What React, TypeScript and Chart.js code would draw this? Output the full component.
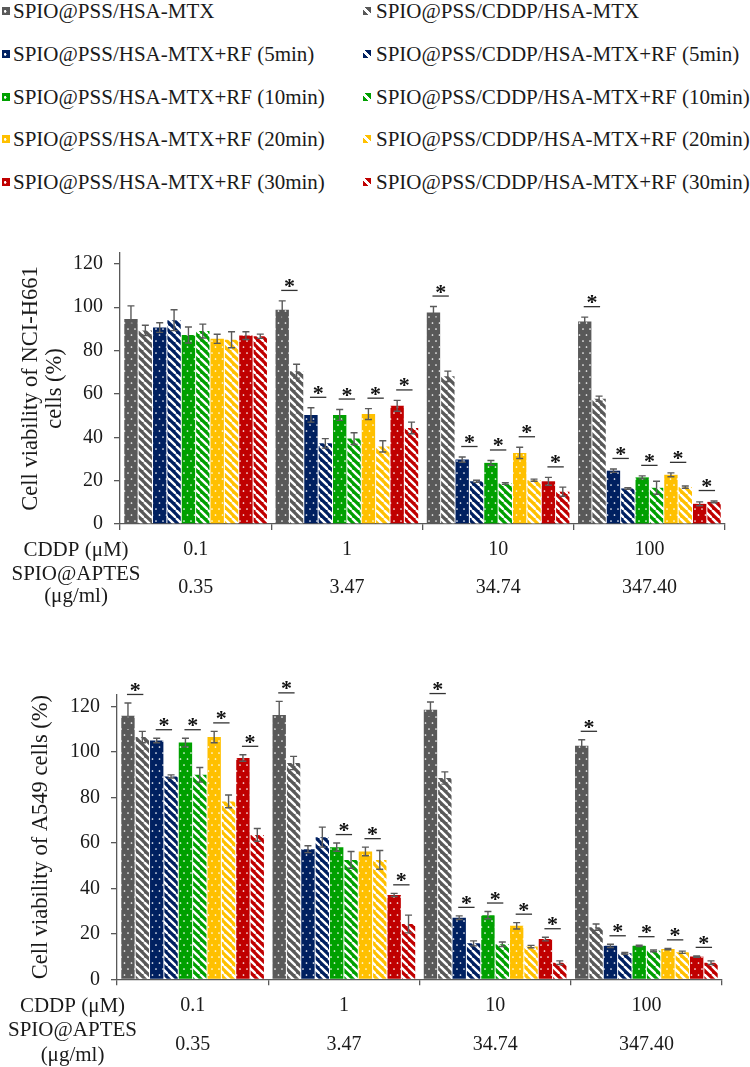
import React, { useEffect, useRef } from 'react';
import { Chart, registerables } from 'chart.js';
Chart.register(...registerables);

const FONT = "'Liberation Serif', 'Times New Roman', serif";
const TEXT = '#1a1a1a';
const AXIS = '#595959';
const ERR = '#5a5a5a';

const cddpLabels = ['0.1', '1', '10', '100'];
const spioLabels = ['0.35', '3.47', '34.74', '347.40'];
const rowLabels = ['CDDP (\u03bcM)', 'SPIO@APTES', '(\u03bcg/ml)'];

const seriesNames = [
  'SPIO@PSS/HSA-MTX',
  'SPIO@PSS/CDDP/HSA-MTX',
  'SPIO@PSS/HSA-MTX+RF (5min)',
  'SPIO@PSS/CDDP/HSA-MTX+RF (5min)',
  'SPIO@PSS/HSA-MTX+RF (10min)',
  'SPIO@PSS/CDDP/HSA-MTX+RF (10min)',
  'SPIO@PSS/HSA-MTX+RF (20min)',
  'SPIO@PSS/CDDP/HSA-MTX+RF (20min)',
  'SPIO@PSS/HSA-MTX+RF (30min)',
  'SPIO@PSS/CDDP/HSA-MTX+RF (30min)',
];
const seriesColors = ['#595959', '#595959', '#002060', '#002060', '#00A000', '#00A000', '#FFC000', '#FFC000', '#C00000', '#C00000'];
const seriesHatched = [false, true, false, true, false, true, false, true, false, true];

// NCI-H661 cell viability (%), per series, per concentration
const h661Values = [
  [94.6, 98.8, 97.6, 93.4],
  [89.3, 70.5, 68.1, 57.8],
  [90.6, 50.3, 29.7, 24.6],
  [94.0, 37.2, 19.7, 16.4],
  [87.2, 50.3, 28.2, 21.5],
  [89.0, 39.4, 18.7, 16.7],
  [85.4, 50.7, 32.8, 22.7],
  [85.0, 35.8, 20.2, 17.0],
  [86.9, 54.5, 19.7, 9.3],
  [86.6, 44.3, 14.9, 10.2],
];
const h661Errors = [
  [6.0, 4.1, 2.7, 2.0],
  [2.4, 3.2, 2.4, 1.2],
  [2.2, 3.3, 1.2, 0.8],
  [4.8, 2.2, 0.5, 0.4],
  [3.7, 2.5, 1.1, 0.7],
  [3.2, 2.7, 0.4, 3.0],
  [2.1, 2.5, 2.6, 0.9],
  [3.7, 2.6, 0.5, 0.5],
  [1.8, 2.5, 1.8, 0.9],
  [1.0, 2.7, 2.1, 0.4],
];
// significance (*) per pair (MTX vs CDDP/MTX): gray, navy, green, yellow, red
const h661Sig = [
  [0, 1, 1, 1],
  [0, 1, 1, 1],
  [0, 1, 1, 1],
  [0, 1, 1, 1],
  [0, 1, 1, 1],
];

// A549 cell viability (%)
const a549Values = [
  [115.9, 116.2, 118.5, 102.7],
  [106.5, 95.1, 88.5, 22.9],
  [105.0, 57.2, 27.1, 14.7],
  [89.2, 62.5, 15.8, 11.4],
  [104.1, 58.1, 28.2, 14.7],
  [89.9, 52.5, 15.4, 12.5],
  [106.5, 56.2, 23.5, 13.3],
  [78.2, 52.5, 14.4, 11.9],
  [97.3, 37.1, 17.7, 10.0],
  [63.5, 24.3, 7.3, 7.3],
];
const a549Errors = [
  [5.6, 6.0, 3.4, 2.6],
  [2.5, 2.9, 2.7, 1.4],
  [1.0, 1.5, 0.8, 0.7],
  [0.7, 4.4, 1.1, 0.4],
  [1.9, 1.8, 1.6, 0.3],
  [3.2, 3.7, 1.0, 0.4],
  [2.5, 1.9, 1.4, 0.3],
  [2.8, 4.1, 0.5, 0.5],
  [1.4, 0.7, 0.8, 0.3],
  [2.8, 3.9, 0.8, 0.8],
];
const a549Sig = [
  [1, 1, 1, 1],
  [1, 0, 1, 1],
  [1, 1, 1, 1],
  [1, 1, 1, 1],
  [1, 1, 1, 1],
];

const yTicks = [0, 20, 40, 60, 80, 100, 120];

function makePattern(color: string, hatched: boolean): CanvasPattern | string {
  const c = document.createElement('canvas');
  if (hatched) {
    c.width = 8;
    c.height = 8;
    const g = c.getContext('2d')!;
    g.fillStyle = color;
    g.fillRect(0, 0, 8, 8);
    g.strokeStyle = '#ffffff';
    g.lineWidth = 2.4;
    for (const o of [-8, 0, 8]) {
      g.beginPath();
      g.moveTo(o, 0);
      g.lineTo(o + 8, 8);
      g.stroke();
    }
    return g.createPattern(c, 'repeat') || color;
  }
  c.width = 7;
  c.height = 12;
  const g = c.getContext('2d')!;
  g.fillStyle = color;
  g.fillRect(0, 0, 7, 12);
  g.fillStyle = '#ffffff';
  g.beginPath();
  g.arc(2, 3, 0.85, 0, Math.PI * 2);
  g.arc(5.5, 9, 0.85, 0, Math.PI * 2);
  g.fill();
  return g.createPattern(c, 'repeat') || color;
}

type Cfg = {
  values: number[][];
  errors: number[][];
  sig: number[][];
  title: string | string[];
  titlePad: number;
  padTop: number;
  padRight: number;
  yWidth: number;
  xHeight: number;
  labelLine: number;
  rowOffsets: number[];
  rowX: number;
  starGap: number;
};

function extrasPlugin(cfg: Cfg) {
  return {
    id: 'extras',
    afterDatasetsDraw(chart: any) {
      const ctx: CanvasRenderingContext2D = chart.ctx;
      const ys = chart.scales.y;
      ctx.save();
      // error bars
      ctx.strokeStyle = ERR;
      ctx.lineWidth = 1.4;
      cfg.values.forEach((series, i) => {
        const meta = chart.getDatasetMeta(i);
        series.forEach((v, j) => {
          const bar = meta.data[j];
          const e = cfg.errors[i][j];
          const x = bar.x;
          const yt = ys.getPixelForValue(v + e);
          const yb = ys.getPixelForValue(v - e);
          const hw = 3.5;
          ctx.beginPath();
          ctx.moveTo(x, yt);
          ctx.lineTo(x, yb);
          ctx.moveTo(x - hw, yt);
          ctx.lineTo(x + hw, yt);
          ctx.moveTo(x - hw, yb);
          ctx.lineTo(x + hw, yb);
          ctx.stroke();
        });
      });
      // significance marks
      ctx.font = `bold 22px ${FONT}`;
      ctx.textAlign = 'center';
      ctx.textBaseline = 'alphabetic';
      const m = ctx.measureText('*');
      const starMid = (m.actualBoundingBoxAscent - m.actualBoundingBoxDescent) / 2;
      cfg.sig.forEach((flags, p) => {
        flags.forEach((f, j) => {
          if (!f) return;
          const a = chart.getDatasetMeta(2 * p).data[j];
          const b = chart.getDatasetMeta(2 * p + 1).data[j];
          const t1 = ys.getPixelForValue(cfg.values[2 * p][j] + cfg.errors[2 * p][j]);
          const t2 = ys.getPixelForValue(cfg.values[2 * p + 1][j] + cfg.errors[2 * p + 1][j]);
          const ly = Math.min(t1, t2) - cfg.starGap;
          ctx.strokeStyle = '#333333';
          ctx.lineWidth = 1.3;
          ctx.beginPath();
          ctx.moveTo(a.x - 1, ly);
          ctx.lineTo(b.x + 1, ly);
          ctx.stroke();
          ctx.fillStyle = '#111111';
          ctx.fillText('*', (a.x + b.x) / 2, ly - 7 + starMid);
        });
      });
      // row labels left of category labels
      ctx.fillStyle = TEXT;
      ctx.font = `21px ${FONT}`;
      ctx.textAlign = 'center';
      ctx.textBaseline = 'middle';
      rowLabels.forEach((t, k) => {
        ctx.fillText(t, cfg.rowX, chart.chartArea.bottom + cfg.rowOffsets[k]);
      });
      ctx.restore();
    },
  };
}

function buildConfig(cfg: Cfg): any {
  const datasets = seriesNames.map((name, i) => ({
    label: name,
    data: cfg.values[i],
    backgroundColor: makePattern(seriesColors[i], seriesHatched[i]),
    borderWidth: 0,
    categoryPercentage: 0.95,
    barPercentage: 0.93,
  }));
  return {
    type: 'bar',
    data: { labels: cddpLabels.map((c, k) => [c, spioLabels[k]]), datasets },
    options: {
      responsive: false,
      animation: false,
      events: [],
      layout: { padding: { top: cfg.padTop, right: cfg.padRight, left: 0, bottom: 0 } },
      plugins: { legend: { display: false }, tooltip: { enabled: false } },
      scales: {
        x: {
          offset: true,
          grid: {
            display: true,
            drawOnChartArea: false,
            drawTicks: true,
            tickLength: 6,
            color: AXIS,
            lineWidth: 1.3,
            offset: true,
          },
          border: { display: true, color: AXIS, width: 1.3 },
          ticks: {
            font: { family: FONT, size: 20, lineHeight: cfg.labelLine },
            color: TEXT,
            padding: 1,
            maxRotation: 0,
            autoSkip: false,
          },
          afterFit: (s: any) => {
            s.height = cfg.xHeight;
          },
        },
        y: {
          min: 0,
          max: 125,
          afterBuildTicks: (s: any) => {
            s.ticks = yTicks.map((v) => ({ value: v }));
          },
          ticks: { font: { family: FONT, size: 20 }, color: TEXT, padding: 11 },
          grid: { drawOnChartArea: false, drawTicks: true, tickLength: 6, color: AXIS, lineWidth: 1.3 },
          border: { display: true, color: AXIS, width: 1.3 },
          title: {
            display: true,
            text: cfg.title,
            color: TEXT,
            font: { family: FONT, size: 22.5, lineHeight: 1.0667 },
            padding: { top: cfg.titlePad, bottom: 0 },
          },
          afterFit: (s: any) => {
            s.width = cfg.yWidth;
          },
        },
      },
    },
    plugins: [extrasPlugin(cfg)],
  };
}

function BarChart({ cfg, top, height }: { cfg: Cfg; top: number; height: number }) {
  const ref = useRef<HTMLCanvasElement | null>(null);
  useEffect(() => {
    if (!ref.current) return;
    const chart = new Chart(ref.current, buildConfig(cfg));
    return () => chart.destroy();
  }, []);
  return (
    <canvas
      ref={ref}
      width={750}
      height={height}
      style={{ position: 'absolute', left: 0, top, width: 750, height, display: 'block' }}
    />
  );
}

function Legend() {
  return (
    <>
      {seriesNames.map((name, i) => {
        const row = Math.floor(i / 2);
        const col = i % 2;
        const yc = 11 + row * 42.75;
        const swX = col === 0 ? 2 : 363;
        const txX = col === 0 ? 13 : 376;
        const c = seriesColors[i];
        const bg = seriesHatched[i]
          ? `linear-gradient(45deg, ${c} 0 36%, #fff 36% 62%, ${c} 62% 100%)`
          : `radial-gradient(circle at 40% 55%, #fff 0 1px, ${c} 1.6px)`;
        return (
          <React.Fragment key={name}>
            <div
              style={{ position: 'absolute', left: swX, top: yc - 4, width: 8, height: 8, background: bg }}
            />
            <div
              style={{
                position: 'absolute',
                left: txX,
                top: yc - 12,
                height: 24,
                lineHeight: '24px',
                fontFamily: FONT,
                fontSize: 21,
                color: TEXT,
                whiteSpace: 'nowrap',
              }}
            >
              {name}
            </div>
          </React.Fragment>
        );
      })}
    </>
  );
}

const topCfg: Cfg = {
  values: h661Values,
  errors: h661Errors,
  sig: h661Sig,
  title: ['Cell viability of NCI-H661', 'cells (%)'],
  titlePad: 19,
  padTop: 15,
  padRight: 25,
  yWidth: 120,
  xHeight: 86,
  labelLine: 1.9,
  rowOffsets: [26, 50, 72],
  rowX: 76,
  starGap: 10.5,
};

const bottomCfg: Cfg = {
  values: a549Values,
  errors: a549Errors,
  sig: a549Sig,
  title: 'Cell viability of A549 cells (%)',
  titlePad: 29,
  padTop: 65,
  padRight: 28,
  yWidth: 117,
  xHeight: 87.7,
  labelLine: 1.95,
  rowOffsets: [27, 51, 76],
  rowX: 72.5,
  starGap: 8.5,
};

export default function App() {
  return (
    <div
      style={{
        position: 'absolute',
        left: 0,
        top: 0,
        width: 750,
        height: 1067,
        background: '#ffffff',
        overflow: 'hidden',
      }}
    >
      <Legend />
      <BarChart cfg={topCfg} top={230} height={380} />
      <BarChart cfg={bottomCfg} top={630} height={437} />
    </div>
  );
}
